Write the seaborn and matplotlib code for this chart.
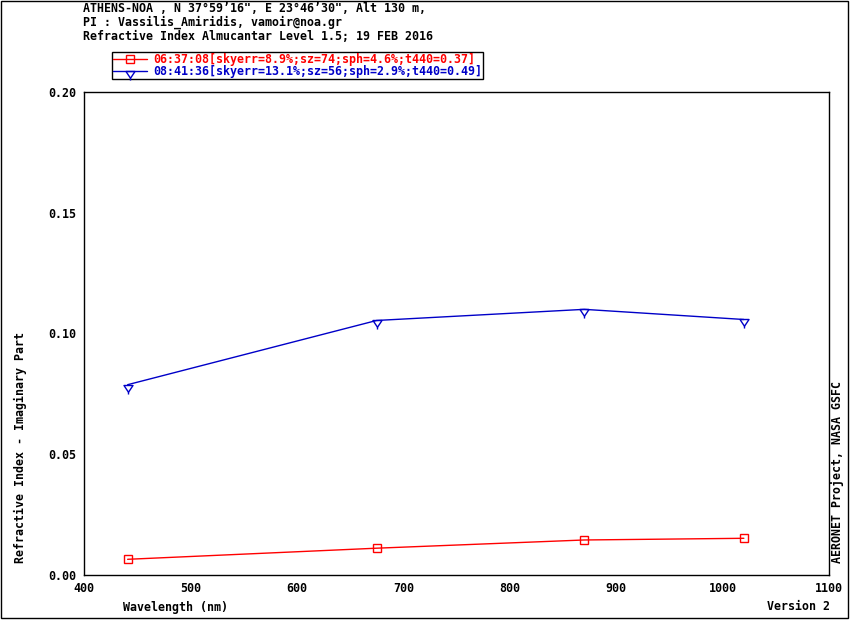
import matplotlib
matplotlib.use("Agg")
import matplotlib.pyplot as plt
from matplotlib.path import Path
from matplotlib.patches import Rectangle
import pandas as pd
import seaborn as sns

wavelength = [441, 675, 870, 1020]
k_0637 = [0.0065, 0.0111, 0.0145, 0.0152]
k_0841 = [0.0788, 0.1054, 0.1100, 0.1058]
labels = ["06:37:08[skyerr=8.9%;sz=74;sph=4.6%;t440=0.37]",
          "08:41:36[skyerr=13.1%;sz=56;sph=2.9%;t440=0.49]"]
colors = ["#ff0000", "#0000c8"]
header = ["ATHENS-NOA , N 37\u00b059\u201916\", E 23\u00b046\u201930\", Alt 130 m,",
          "PI : Vassilis_Amiridis, vamoir@noa.gr",
          "Refractive Index Almucantar Level 1.5; 19 FEB 2016"]
x_ticks = [400, 500, 600, 700, 800, 900, 1000, 1100]
y_ticks = [0.00, 0.05, 0.10, 0.15, 0.20]

df = pd.DataFrame({
    "wl": wavelength * 2,
    "k": k_0637 + k_0841,
    "series": [labels[0]] * 4 + [labels[1]] * 4,
})

sns.set_style("white")
plt.rcParams['font.family'] = ['DejaVu Sans Mono', 'DejaVu Sans']
plt.rcParams['font.weight'] = 'bold'
plt.rcParams['text.color'] = 'black'
plt.rcParams['xtick.color'] = 'black'
plt.rcParams['ytick.color'] = 'black'
fs = 8.4

# triangle hanging below the data point, with a small tail
tri = Path([(-1, 0), (1, 0), (0, -1.5), (-1, 0), (0, -1.5), (0, -2.0)],
           [Path.MOVETO, Path.LINETO, Path.LINETO, Path.CLOSEPOLY, Path.MOVETO, Path.LINETO])
sq_size = 6
tri_size = 13

fig = plt.figure(figsize=(8.5, 6.2), dpi=100)
ax = fig.add_axes([84 / 850, 45 / 620, 745 / 850, 483 / 620])

sns.lineplot(data=df, x="wl", y="k", hue="series", palette=colors, style="series",
             markers=["s", tri], dashes=False, markersize=sq_size, markerfacecolor="none",
             linewidth=1, ax=ax, legend=False)
for line, c in zip(ax.lines, colors):
    line.set_markeredgecolor(c)
    line.set_markerfacecolor("none")
    line.set_markeredgewidth(1)
ax.lines[0].set_markersize(sq_size)
ax.lines[1].set_markersize(tri_size)

ax.set_xlim(400, 1100)
ax.set_ylim(0, 0.20)
ax.set_xticks(x_ticks)
ax.set_yticks(y_ticks)
ax.set_xticklabels([str(t) for t in x_ticks])
ax.set_yticklabels([f"{t:.2f}" for t in y_ticks])
ax.tick_params(axis="x", direction="in", length=9.4, width=1, pad=5, labelsize=fs)
ax.tick_params(axis="y", direction="in", length=5, width=1, pad=5.5, labelsize=fs)
ax.tick_params(top=False, right=False)
for s in ax.spines.values():
    s.set_color("black")
    s.set_linewidth(1)
ax.set_xlabel("")
ax.set_ylabel("")

# legend
handles = [plt.Line2D([], [], color=colors[0], marker="s", markerfacecolor="none",
                      markersize=sq_size, lw=1),
           plt.Line2D([], [], color=colors[1], marker=tri, markerfacecolor="none",
                      markersize=tri_size, lw=1)]
leg = fig.legend(handles, labels, loc="upper left", bbox_to_anchor=(112 / 850, 1 - 52 / 620),
                 frameon=True, fancybox=False, edgecolor="black", framealpha=1,
                 fontsize=fs, handlelength=2.9, handletextpad=0.5, borderpad=0.1,
                 labelspacing=-0.1, borderaxespad=0)
leg.get_frame().set_linewidth(1)
for t, c in zip(leg.get_texts(), colors):
    t.set_color(c)

for i, line in enumerate(header):
    fig.text(83 / 850, 1 - (8 + 14 * i) / 620, line, fontsize=fs, va="center", ha="left")

fig.text(123 / 850, 1 - 607 / 620, "Wavelength (nm)", fontsize=fs, va="center", ha="left")
fig.text(830 / 850, 1 - 607 / 620, "Version 2", fontsize=fs, va="center", ha="right")
fig.text(20 / 850, 1 - 563 / 620, "Refractive Index - Imaginary Part", fontsize=fs,
         rotation=90, va="bottom", ha="center")
fig.text(838 / 850, 1 - 563 / 620, "AERONET Project, NASA GSFC", fontsize=fs,
         rotation=90, va="bottom", ha="center")

fig.patches.append(Rectangle((1 / 850, 2 / 620), 847 / 850, 617 / 620, transform=fig.transFigure,
                             fill=False, edgecolor="black", linewidth=1))

fig.savefig("out.png", dpi=100)
